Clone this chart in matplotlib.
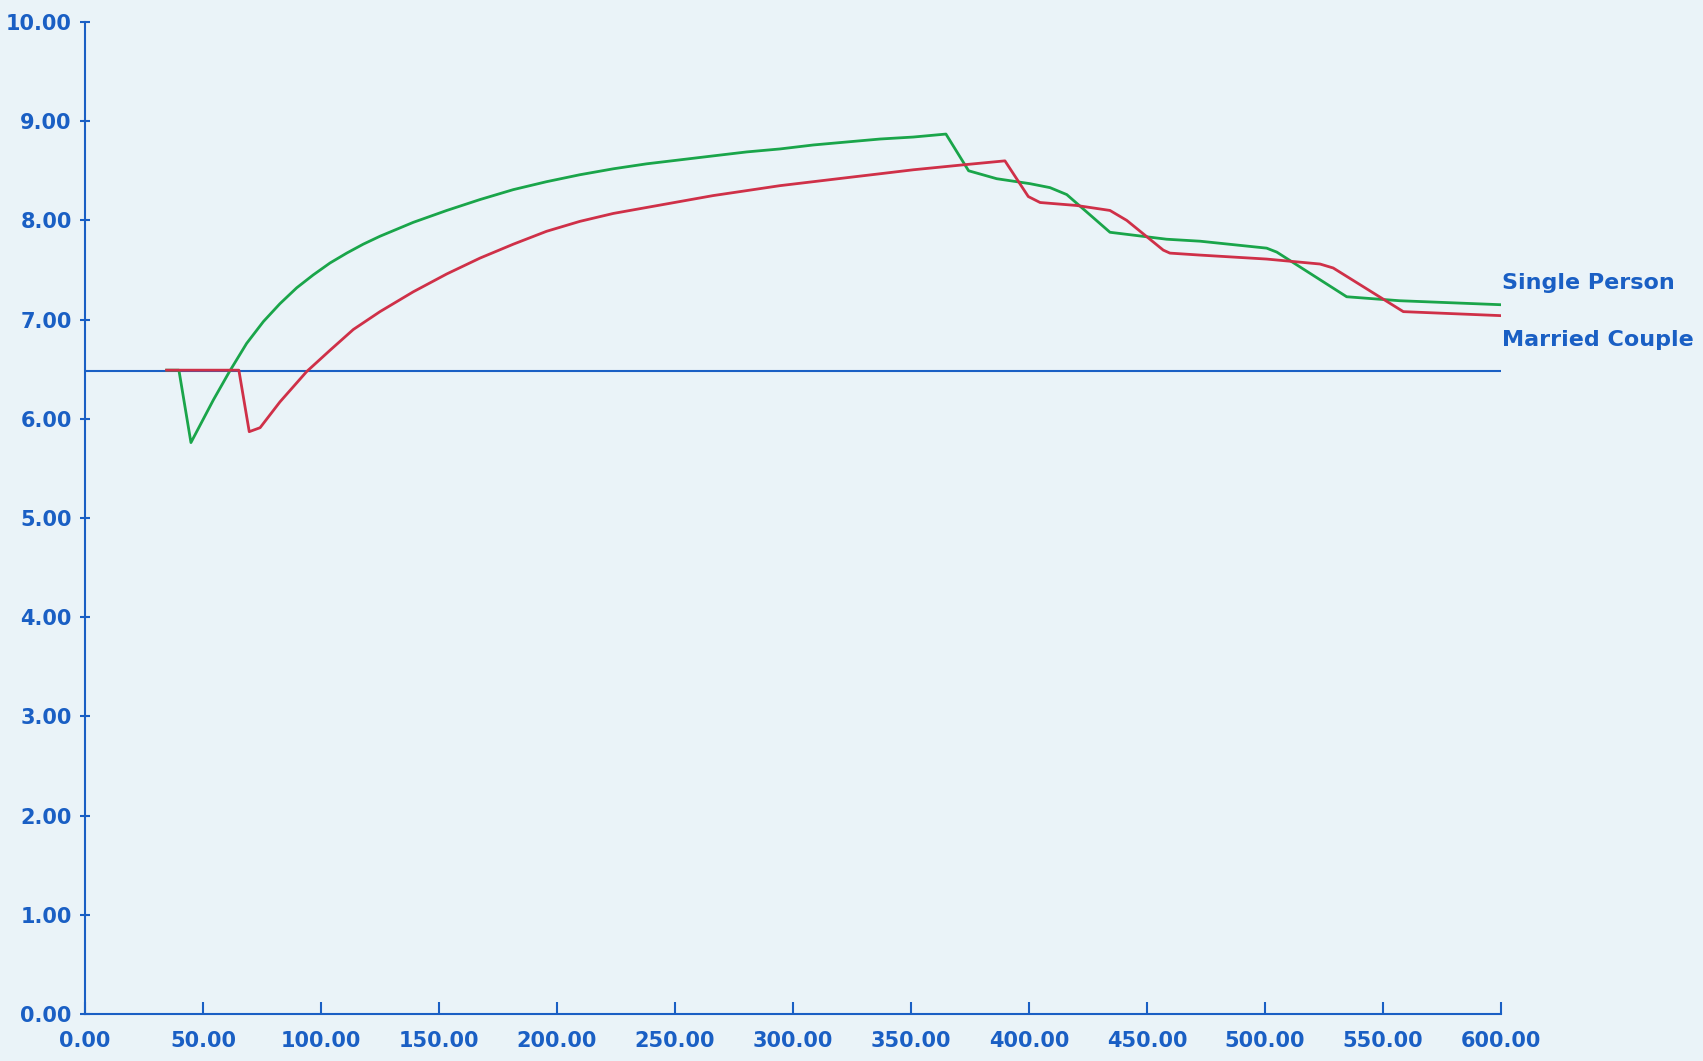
import matplotlib.pyplot as plt

# pen-plotter chart: two curves against a flat reference line
single_x = [34.6, 39.8, 44.9, 54.4, 61.2, 68.5, 75.6, 82.6, 89.7, 96.7, 103.8,
            110.9, 117.9, 125.0, 139.1, 153.3, 167.4, 181.5, 195.6, 209.7, 223.9,
            238.0, 252.1, 266.2, 280.4, 294.5, 308.6, 322.7, 336.9, 351.0, 364.8,
            374.4, 386.3, 400.4, 408.9, 416.0, 434.3, 458.3, 472.5, 500.7, 505.0,
            534.6, 557.0, 599.6]
single_y = [6.49, 6.49, 5.76, 6.19, 6.475, 6.76, 6.98, 7.16, 7.32, 7.45, 7.57,
            7.67, 7.76, 7.84, 7.98, 8.10, 8.21, 8.31, 8.39, 8.46, 8.52,
            8.57, 8.61, 8.65, 8.69, 8.72, 8.76, 8.79, 8.82, 8.84, 8.87,
            8.50, 8.42, 8.37, 8.33, 8.26, 7.88, 7.81, 7.79, 7.72, 7.68,
            7.23, 7.19, 7.15]

married_x = [34.6, 65.2, 69.6, 74.2, 82.6, 93.9, 103.8, 113.7, 125.0, 139.1, 153.3,
             167.4, 181.5, 195.6, 209.7, 223.9, 238.0, 252.1, 266.2, 280.4, 294.5,
             308.6, 322.7, 336.9, 351.0, 372.2, 389.8, 399.7, 404.7, 420.2, 434.3,
             441.4, 456.9, 459.7, 472.5, 500.7, 523.3, 528.9, 558.6, 599.6]
married_y = [6.49, 6.49, 5.87, 5.91, 6.17, 6.475, 6.69, 6.90, 7.08, 7.28, 7.46,
             7.62, 7.76, 7.89, 7.99, 8.07, 8.13, 8.19, 8.25, 8.30, 8.35,
             8.39, 8.43, 8.47, 8.51, 8.56, 8.60, 8.24, 8.18, 8.15, 8.10,
             8.00, 7.70, 7.67, 7.65, 7.61, 7.56, 7.52, 7.08, 7.04]

base_x = [0, 600]
base_y = [6.48, 6.48]

x_ticks = [0, 50, 100, 150, 200, 250, 300, 350, 400, 450, 500, 550, 600]
y_ticks = [0, 1, 2, 3, 4, 5, 6, 7, 8, 9, 10]

label_single = 'Single Person'
label_married = 'Married Couple'
label_single_y = 7.37
label_married_y = 6.79

paper = '#eaf3f8'
pen_blue = '#1a5fc4'
pen_green = '#1aa54a'
pen_red = '#cf3048'

plt.rcParams['font.family'] = ['DejaVu Sans']

fig = plt.figure(figsize=(17.03, 10.61), dpi=100, facecolor=paper)
ax = fig.add_axes([0.0499, 0.0443, 0.8315, 0.935])
ax.set_facecolor(paper)

ax.plot(base_x, base_y, color=pen_blue, linewidth=1.5)
ax.plot(single_x, single_y, color=pen_green, linewidth=2.0)
ax.plot(married_x, married_y, color=pen_red, linewidth=2.0)

ax.set_xlim(0, 600)
ax.set_ylim(0, 10)
ax.set_xticks(x_ticks)
ax.set_yticks(y_ticks)
ax.set_xticklabels([f'{v:.2f}' for v in x_ticks])
ax.set_yticklabels([f'{v:.2f}' for v in y_ticks])

for side in ['top', 'right']:
    ax.spines[side].set_visible(False)
for side in ['left', 'bottom']:
    ax.spines[side].set_color(pen_blue)
    ax.spines[side].set_linewidth(1.5)

ax.tick_params(axis='x', direction='in', length=9, width=1.5, color=pen_blue,
               labelcolor=pen_blue, labelsize=15, pad=12)
ax.tick_params(axis='y', direction='inout', length=7, width=1.5, color=pen_blue,
               labelcolor=pen_blue, labelsize=15, pad=6)
for t in ax.get_xticklabels() + ax.get_yticklabels():
    t.set_fontweight('bold')

ax.text(600.5, label_single_y, label_single, color=pen_blue, fontsize=16,
        fontweight='bold', va='center', ha='left', clip_on=False)
ax.text(600.5, label_married_y, label_married, color=pen_blue, fontsize=16,
        fontweight='bold', va='center', ha='left', clip_on=False)

plt.savefig('out.png', dpi=100, facecolor=paper)
